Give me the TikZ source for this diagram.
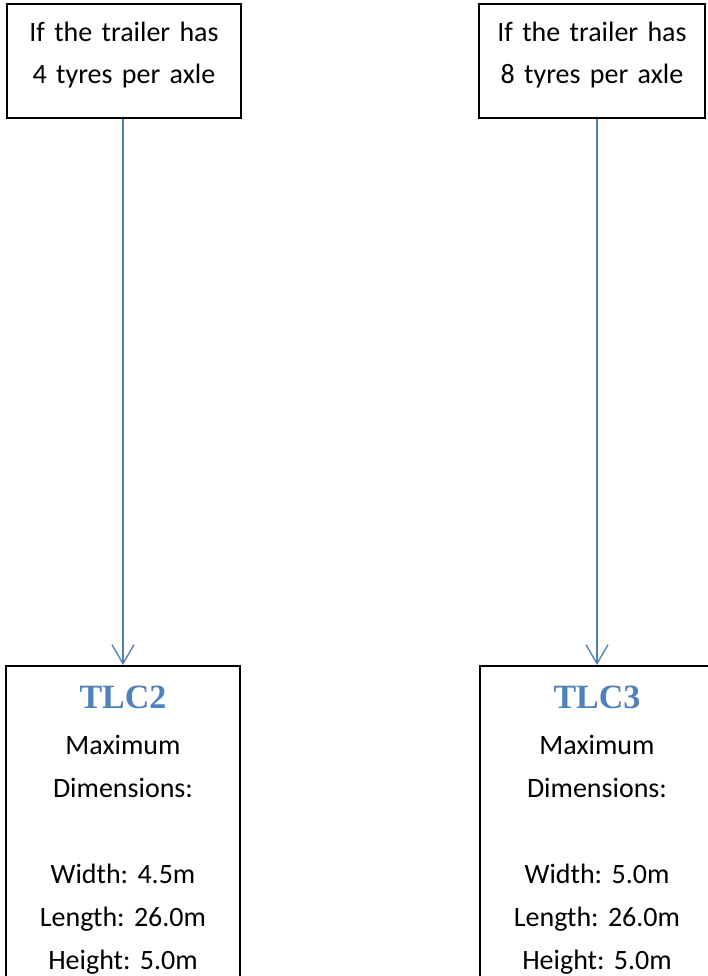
\documentclass[tikz,border=0pt]{standalone}
\usepackage{fontspec}
\setmainfont{Carlito}
\newfontfamily\titlefont{Liberation Serif}
\usepackage{xcolor}
\usetikzlibrary{arrows.meta}
\definecolor{arrowblue}{HTML}{4A7EBB}
\definecolor{titleblue}{HTML}{4F81BD}
\newcommand{\tlctitle}[1]{{\titlefont\bfseries\fontsize{34}{43}\selectfont\color{titleblue}#1}}
\frenchspacing

\begin{document}
\begin{tikzpicture}[x=1pt,y=1pt,
  askbox/.style={draw=black,line width=1.6pt,inner xsep=4pt,text width=210pt,align=center,
    minimum height=114pt,text depth=58pt,font=\fontsize{28}{42}\selectfont},
  tlcbox/.style={draw=black,line width=1.6pt,anchor=north,inner xsep=7pt,inner ysep=20pt,
    text width=220pt,align=center,font=\fontsize{28}{43}\selectfont},
  flow/.style={draw=arrowblue,line width=1.3pt,-{Straight Barb[length=19pt,width=22pt]}}]
\clip (0,0) rectangle (708,976);
\node[askbox,minimum width=234pt] (ask4) at (124,915) {If the trailer has\\4 tyres per axle};
\node[askbox,minimum width=226pt] (ask8) at (592,915) {If the trailer has\\8 tyres per axle};
\node[tlcbox] (tlc2) at (123,311) {\tlctitle{TLC2}\\[3pt]Maximum\\Dimensions:\\[43pt]Width: 4.5m\\Length: 26.0m\\Height: 5.0m};
\node[tlcbox] (tlc3) at (597,311) {\tlctitle{TLC3}\\[3pt]Maximum\\Dimensions:\\[43pt]Width: 5.0m\\Length: 26.0m\\Height: 5.0m};
\draw[flow] (tlc2.north |- ask4.south) -- (tlc2.north);
\draw[flow] (tlc3.north |- ask8.south) -- (tlc3.north);
\end{tikzpicture}
\end{document}
